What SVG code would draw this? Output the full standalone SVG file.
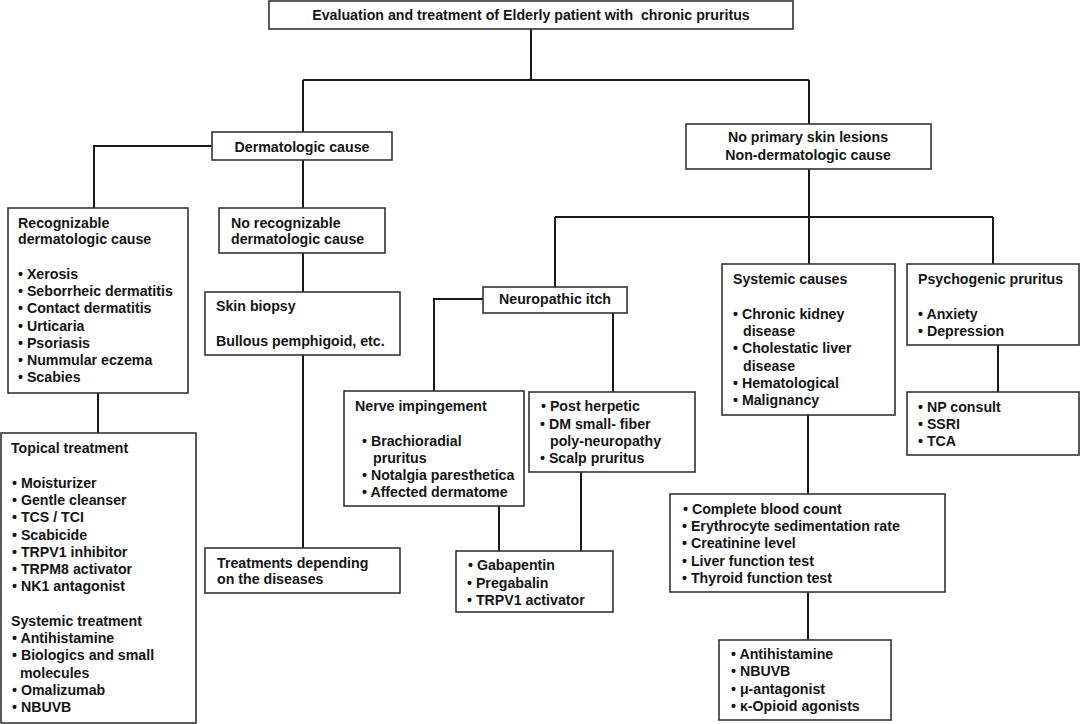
<svg xmlns="http://www.w3.org/2000/svg" width="1080" height="724" viewBox="0 0 1080 724">
<style>
.b{fill:#fff;stroke:#333;stroke-width:1.6}
text{font-family:"Liberation Sans",Arial,sans-serif;font-weight:bold;font-size:14.2px;fill:#151515}
.c{text-anchor:middle}
.ln{fill:none;stroke:#1a1a1a;stroke-width:2}
</style>
<rect x="0" y="0" width="1080" height="724" fill="#fff"/>
<g id="connectors" class="ln">
<path d="M531,29V80M303,80H809M303,80V132M809,80V124"/>
<path d="M212,146H94V208M303,160V208M98,393V433M303,253V292M303,355V548"/>
<path d="M809,169V264M555,217H993M555,217V287M993,217V264"/>
<path d="M483,299H434V391M613,313V392M499,506V551M581,472V551"/>
<path d="M998,345V392M808,415V494M808,592V640"/>
</g>
<g id="title"><rect class="b" x="269" y="1" width="524" height="28"/><text class="c" x="531" y="20">Evaluation and treatment of Elderly patient with&#160; chronic pruritus</text></g>
<g id="derm"><rect class="b" x="212" y="132" width="180" height="28"/><text class="c" x="302" y="151.5">Dermatologic cause</text></g>
<g id="nonderm"><rect class="b" x="686" y="124" width="245" height="45"/><text class="c" x="808" y="142">No primary skin lesions</text><text class="c" x="808" y="160">Non-dermatologic cause</text></g>
<g id="recog"><rect class="b" x="8" y="208" width="180" height="185"/>
<text x="18" y="228">Recognizable</text><text x="18" y="244">dermatologic cause</text>
<text x="18" y="279">• Xerosis</text><text x="18" y="296.2">• Seborrheic dermatitis</text><text x="18" y="313.4">• Contact dermatitis</text><text x="18" y="330.6">• Urticaria</text><text x="18" y="347.8">• Psoriasis</text><text x="18" y="365">• Nummular eczema</text><text x="18" y="382.2">• Scabies</text></g>
<g id="norecog"><rect class="b" x="219" y="208" width="166" height="45"/><text x="231" y="228">No recognizable</text><text x="231" y="244">dermatologic cause</text></g>
<g id="biopsy"><rect class="b" x="205" y="292" width="195" height="63"/><text x="216" y="311">Skin biopsy</text><text x="216" y="346">Bullous pemphigoid, etc.</text></g>
<g id="treatdis"><rect class="b" x="205" y="548" width="195" height="45"/><text x="217" y="568">Treatments depending</text><text x="217" y="584">on the diseases</text></g>
<g id="topical"><rect class="b" x="1" y="433" width="195" height="290"/>
<text x="11" y="453">Topical treatment</text>
<text x="12" y="488">• Moisturizer</text><text x="12" y="505.2">• Gentle cleanser</text><text x="12" y="522.4">• TCS / TCI</text><text x="12" y="539.6">• Scabicide</text><text x="12" y="556.8">• TRPV1 inhibitor</text><text x="12" y="574">• TRPM8 activator</text><text x="12" y="591.2">• NK1 antagonist</text>
<text x="11" y="626">Systemic treatment</text>
<text x="12" y="643.2">• Antihistamine</text><text x="12" y="660.4">• Biologics and small</text><text x="20" y="677.6">molecules</text><text x="12" y="694.8">• Omalizumab</text><text x="12" y="712">• NBUVB</text></g>
<g id="neuro"><rect class="b" x="483" y="287" width="144" height="26"/><text class="c" x="555" y="304">Neuropathic itch</text></g>
<g id="nerve"><rect class="b" x="344" y="391" width="180" height="115"/>
<text x="355" y="411">Nerve impingement</text>
<text x="362" y="446">• Brachioradial</text><text x="373" y="463">pruritus</text><text x="362" y="480">• Notalgia paresthetica</text><text x="362" y="497">• Affected dermatome</text></g>
<g id="postherp"><rect class="b" x="529" y="392" width="166" height="80"/>
<text x="541" y="411">• Post herpetic</text><text x="540" y="428.5">• DM small- fiber</text><text x="550" y="446">poly-neuropathy</text><text x="540" y="463">• Scalp pruritus</text></g>
<g id="gaba"><rect class="b" x="456" y="551" width="157" height="61"/>
<text x="468" y="570">• Gabapentin</text><text x="467" y="587.5">• Pregabalin</text><text x="467" y="605">• TRPV1 activator</text></g>
<g id="systemic"><rect class="b" x="722" y="264" width="173" height="151"/>
<text x="733" y="284">Systemic causes</text>
<text x="733" y="319">• Chronic kidney</text><text x="743" y="336.2">disease</text><text x="733" y="353.4">• Cholestatic liver</text><text x="743" y="370.6">disease</text><text x="733" y="387.8">• Hematological</text><text x="733" y="405">• Malignancy</text></g>
<g id="psycho"><rect class="b" x="907" y="264" width="172" height="81"/>
<text x="918" y="284">Psychogenic pruritus</text><text x="918" y="319">• Anxiety</text><text x="918" y="336">• Depression</text></g>
<g id="np"><rect class="b" x="907" y="392" width="172" height="63"/>
<text x="918" y="412">• NP consult</text><text x="918" y="429">• SSRI</text><text x="918" y="446">• TCA</text></g>
<g id="labs"><rect class="b" x="670" y="494" width="275" height="98"/>
<text x="683" y="514">• Complete blood count</text><text x="682" y="531">• Erythrocyte sedimentation rate</text><text x="682" y="548">• Creatinine level</text><text x="682" y="565.5">• Liver function test</text><text x="682" y="582.5">• Thyroid function test</text></g>
<g id="systx"><rect class="b" x="719" y="640" width="172" height="80"/>
<text x="731" y="659">• Antihistamine</text><text x="731" y="676">• NBUVB</text><text x="731" y="693.5">• μ-antagonist</text><text x="731" y="710.5">• κ-Opioid agonists</text></g>
</svg>
